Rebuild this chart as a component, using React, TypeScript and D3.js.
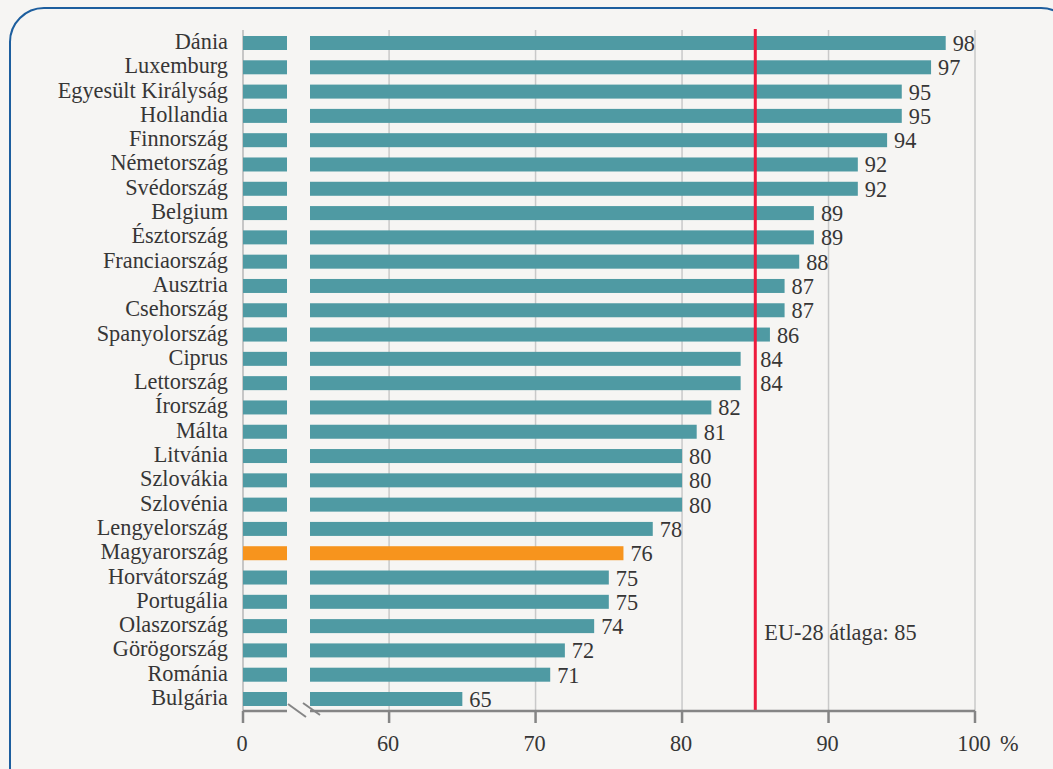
import React from "react";
import * as d3 from "d3";

const countries = [
  "Dánia", "Luxemburg", "Egyesült Királyság", "Hollandia", "Finnország", "Németország",
  "Svédország", "Belgium", "Észtország", "Franciaország", "Ausztria", "Csehország",
  "Spanyolország", "Ciprus", "Lettország", "Írország", "Málta", "Litvánia", "Szlovákia",
  "Szlovénia", "Lengyelország", "Magyarország", "Horvátország", "Portugália", "Olaszország",
  "Görögország", "Románia", "Bulgária",
];
const values = [98, 97, 95, 95, 94, 92, 92, 89, 89, 88, 87, 87, 86, 84, 84, 82, 81, 80, 80, 80, 78, 76, 75, 75, 74, 72, 71, 65];
const highlight = "Magyarország";
const euAverage = 85;
const euLabel = "EU-28 átlaga: 85";
const tickValues = [0, 60, 70, 80, 90, 100];
const gridValues = [60, 70, 80, 90, 100];
const unitLabel = "%";
// broken axis: left stub shows [0, 3], right part shows [54.6, 100]
const leftDomain = [0, 3];
const rightDomain = [54.6, 100];

const W = 1053;
const H = 769;
const FONT = "'Liberation Serif', 'Times New Roman', serif";
const TEAL = "#4f9aa3";
const ORANGE = "#f7941d";
const TEXT = "#363636";

export default function App() {
  const xL = d3.scaleLinear().domain(leftDomain).range([243, 287]);
  const xR = d3.scaleLinear().domain(rightDomain).range([310, 975]);
  const x = (v: number) => (v <= leftDomain[1] ? xL(v) : xR(v));
  const y = d3.scalePoint<string>().domain(countries).range([43, 699]);
  const barH = 14;
  const top = 30;
  const axisY = 711;
  const fs = 22.3;
  const redX = x(euAverage);

  const labelX = (v: number) => {
    const lx = x(v) + 7;
    const w = String(v).length * fs * 0.5;
    if (lx < redX + 4 && lx + w > redX - 2) return redX + 5;
    return lx;
  };

  return (
    <div style={{ position: "fixed", left: 0, top: 0, width: W, height: H }}>
      <svg width={W} height={H} style={{ display: "block", background: "#f6f5f3" }} fontFamily={FONT}>
        <rect x={10} y={8} width={1065} height={820} rx={34} ry={34} fill="#f6f5f3" stroke="#1d5e9e" strokeWidth={2} />
        {gridValues.map((v) => (
          <line key={"g" + v} x1={x(v)} x2={x(v)} y1={top} y2={axisY} stroke="#c9c9c9" strokeWidth={1.5} />
        ))}
        <line x1={x(0)} x2={x(0)} y1={top} y2={axisY} stroke="#c6c6c6" strokeWidth={2} />
        {countries.map((c, i) => {
          const col = c === highlight ? ORANGE : TEAL;
          const cy = y(c)!;
          return (
            <g key={c}>
              <rect x={x(leftDomain[0])} y={cy - barH / 2} width={x(leftDomain[1]) - x(leftDomain[0])} height={barH} fill={col} />
              <rect x={x(rightDomain[0])} y={cy - barH / 2} width={x(values[i]) - x(rightDomain[0])} height={barH} fill={col} />
              <text x={228} y={cy + 6} textAnchor="end" fontSize={fs} fill={TEXT}>{c}</text>
            </g>
          );
        })}
        <line x1={redX} x2={redX} y1={top - 1} y2={axisY} stroke="#ee1b3d" strokeWidth={3} />
        {countries.map((c, i) => (
          <text key={"v" + c} x={labelX(values[i])} y={y(c)! + 8} fontSize={fs} fill={TEXT}>{values[i]}</text>
        ))}
        <text x={redX + 9} y={640} fontSize={fs} fill={TEXT}>{euLabel}</text>
        <line x1={x(leftDomain[0])} x2={x(leftDomain[1])} y1={axisY} y2={axisY} stroke="#858585" strokeWidth={2.5} />
        <line x1={x(rightDomain[0])} x2={x(100)} y1={axisY} y2={axisY} stroke="#858585" strokeWidth={2.5} />
        <line x1={x(leftDomain[1]) + 1} y1={axisY - 7} x2={x(leftDomain[1]) + 19} y2={axisY + 6} stroke="#858585" strokeWidth={2} />
        <line x1={x(rightDomain[0]) - 7} y1={axisY - 8} x2={x(rightDomain[0]) + 10} y2={axisY + 4} stroke="#858585" strokeWidth={2} />
        {tickValues.map((v) => (
          <g key={"t" + v}>
            <line x1={x(v)} x2={x(v)} y1={axisY} y2={axisY + 12} stroke="#858585" strokeWidth={2.5} />
            <text x={x(v) - 1} y={751} textAnchor="middle" fontSize={fs} fill={TEXT}>{v}</text>
          </g>
        ))}
        <text x={x(100) + 25} y={751} fontSize={fs} fill={TEXT}>{unitLabel}</text>
      </svg>
    </div>
  );
}
